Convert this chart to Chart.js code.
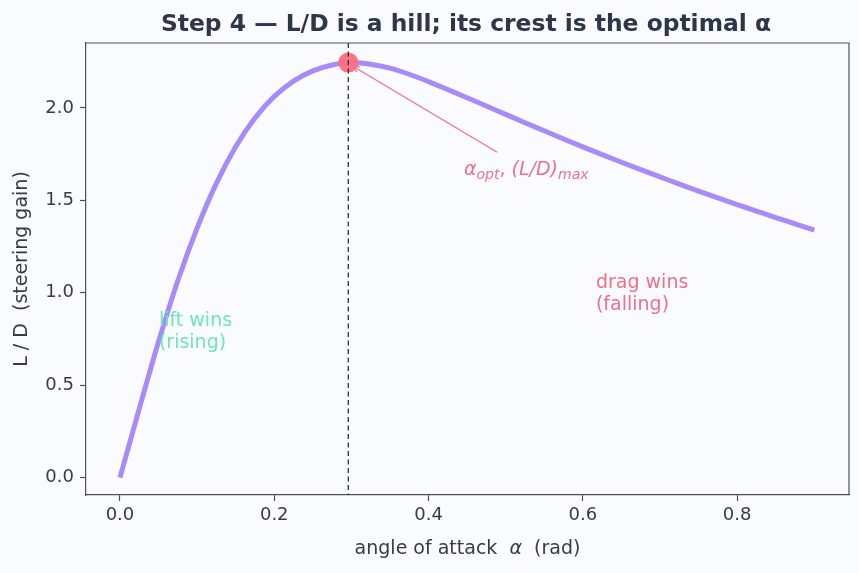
<!DOCTYPE html>
<html>
<head>
<meta charset="utf-8">
<script src="https://cdn.jsdelivr.net/npm/chart.js@4.4.1/dist/chart.umd.min.js"></script>
<style>
  html, body { margin: 0; padding: 0; background: #fafbfe; }
  #wrap { width: 859px; height: 573px; }
</style>
</head>
<body>
<div id="wrap"><canvas id="ldChart" width="859" height="573"></canvas></div>
<script>
// L/D vs angle of attack
const ALPHA = [0, 0.025, 0.05, 0.075, 0.1, 0.125, 0.15, 0.175, 0.2, 0.225, 0.25, 0.275, 0.3,
  0.325, 0.35, 0.375, 0.4, 0.425, 0.45, 0.475, 0.5, 0.525, 0.55, 0.575, 0.6, 0.625, 0.65,
  0.675, 0.7, 0.725, 0.75, 0.775, 0.8, 0.825, 0.85, 0.875, 0.9];
const LD = [0.00, 0.372, 0.735, 1.065, 1.35, 1.592, 1.79, 1.945, 2.062, 2.145, 2.20, 2.232, 2.245,
  2.236, 2.215, 2.182, 2.142, 2.099, 2.055, 2.01, 1.965, 1.92, 1.876, 1.832, 1.789, 1.747, 1.706,
  1.666, 1.627, 1.588, 1.55, 1.513, 1.477, 1.442, 1.407, 1.373, 1.339];
const ALPHA_OPT = 0.296;
const LD_MAX = 2.245;
const X_TICKS = [0, 0.2, 0.4, 0.6, 0.8];
const Y_TICKS = [0, 0.5, 1.0, 1.5, 2.0];

const FONT = 'DejaVu Sans';
const TEXT = '#343b4a';
const AXIS = '#4a505e';
const PINK = '#f07089';
const GREEN = '#6ee7b7';

// draw a run of [text, style, size, dy] pieces starting at x
function drawPieces(ctx, pieces, x, y, color) {
  ctx.fillStyle = color;
  ctx.textAlign = 'left';
  ctx.textBaseline = 'alphabetic';
  let cx = x;
  pieces.forEach(p => {
    ctx.font = p[1] + ' ' + p[2] + 'px "' + FONT + '"';
    ctx.fillText(p[0], cx, y + (p[3] || 0));
    cx += ctx.measureText(p[0]).width;
  });
  return cx - x;
}
function piecesWidth(ctx, pieces) {
  let w = 0;
  pieces.forEach(p => {
    ctx.font = p[1] + ' ' + p[2] + 'px "' + FONT + '"';
    w += ctx.measureText(p[0]).width;
  });
  return w;
}

const overlay = {
  id: 'overlay',
  afterDatasetsDraw(chart) {
    const ctx = chart.ctx;
    const xs = chart.scales.x, ys = chart.scales.y;
    const area = chart.chartArea;
    ctx.save();

    // dashed line at the optimum
    ctx.strokeStyle = '#2d3340';
    ctx.lineWidth = 1.3;
    ctx.setLineDash([5, 3.5]);
    const xo = xs.getPixelForValue(ALPHA_OPT);
    ctx.beginPath();
    ctx.moveTo(xo, area.top);
    ctx.lineTo(xo, area.bottom);
    ctx.stroke();
    ctx.setLineDash([]);

    // arrow from label to crest
    const x1 = xs.getPixelForValue(0.489), y1 = ys.getPixelForValue(1.76);
    const x2 = xs.getPixelForValue(0.302), y2 = ys.getPixelForValue(2.225);
    ctx.strokeStyle = PINK;
    ctx.lineWidth = 1.3;
    ctx.beginPath();
    ctx.moveTo(x1, y1);
    ctx.lineTo(x2, y2);
    const ang = Math.atan2(y2 - y1, x2 - x1);
    ctx.moveTo(x2 - 7 * Math.cos(ang - 0.45), y2 - 7 * Math.sin(ang - 0.45));
    ctx.lineTo(x2, y2);
    ctx.lineTo(x2 - 7 * Math.cos(ang + 0.45), y2 - 7 * Math.sin(ang + 0.45));
    ctx.stroke();

    drawPieces(ctx, [['α', 'italic', 19], ['opt', 'italic', 14, 4], [',', 'normal', 19],
      [' (L/D)', 'italic', 19], ['max', 'italic', 14, 4]],
      xs.getPixelForValue(0.446), ys.getPixelForValue(1.636), PINK);

    // region labels
    ctx.font = '19px "' + FONT + '"';
    ctx.textAlign = 'left';
    ctx.fillStyle = PINK;
    ctx.fillText('drag wins', xs.getPixelForValue(0.617), ys.getPixelForValue(1.025));
    ctx.fillText('(falling)', xs.getPixelForValue(0.617), ys.getPixelForValue(1.025) + 22);
    ctx.fillStyle = GREEN;
    ctx.fillText('lift wins', xs.getPixelForValue(0.0505), ys.getPixelForValue(0.818));
    ctx.fillText('(rising)', xs.getPixelForValue(0.0505), ys.getPixelForValue(0.818) + 22);

    // top and right spines
    ctx.strokeStyle = AXIS;
    ctx.lineWidth = 1.2;
    ctx.beginPath();
    ctx.moveTo(area.left, area.top);
    ctx.lineTo(area.right, area.top);
    ctx.lineTo(area.right, area.bottom);
    ctx.stroke();

    // title
    ctx.fillStyle = '#2d3748';
    ctx.font = 'bold 23.4px "' + FONT + '"';
    ctx.textAlign = 'center';
    ctx.fillText('Step 4 — L/D is a hill; its crest is the optimal α', 466, 31);

    // x axis label with italic alpha
    const xl = [['angle of attack  ', 'normal', 19], ['α', 'italic', 19], ['  (rad)', 'normal', 19]];
    const w = piecesWidth(ctx, xl);
    drawPieces(ctx, xl, (area.left + area.right) / 2 - w / 2, 554, TEXT);
    ctx.restore();
  }
};

function initChart() {
  const ctx = document.getElementById('ldChart').getContext('2d');
  new Chart(ctx, {
    type: 'scatter',
    data: {
      datasets: [
        {
          label: 'L/D',
          data: ALPHA.map((a, i) => ({ x: a, y: LD[i] })),
          showLine: true,
          borderColor: '#a78bfa',
          borderWidth: 5,
          pointRadius: 0,
          cubicInterpolationMode: 'monotone',
          order: 2
        },
        {
          label: 'optimum',
          data: [{ x: ALPHA_OPT, y: LD_MAX }],
          backgroundColor: '#fb7185',
          borderWidth: 0,
          pointRadius: 10,
          order: 1
        }
      ]
    },
    options: {
      responsive: false,
      animation: false,
      devicePixelRatio: 1,
      layout: { padding: { top: 43, right: 9, left: 0, bottom: 0 } },
      plugins: { legend: { display: false }, tooltip: { enabled: false } },
      scales: {
        x: {
          type: 'linear',
          min: -0.044,
          max: 0.945,
          afterBuildTicks: s => { s.ticks = X_TICKS.map(v => ({ value: v })); },
          afterFit: s => { s.height = 78; },
          ticks: {
            callback: v => v.toFixed(1),
            font: { family: FONT, size: 18 },
            color: TEXT,
            padding: 4,
            maxRotation: 0,
            autoSkip: false
          },
          grid: { drawOnChartArea: false, tickLength: 6, color: AXIS, tickWidth: 1.2 },
          border: { color: AXIS, width: 1.2 }
        },
        y: {
          min: -0.094,
          max: 2.351,
          afterBuildTicks: s => { s.ticks = Y_TICKS.map(v => ({ value: v })); },
          afterFit: s => { s.width = 86; },
          ticks: {
            callback: v => v.toFixed(1),
            font: { family: FONT, size: 18 },
            color: TEXT,
            padding: 6,
            autoSkip: false
          },
          grid: { drawOnChartArea: false, tickLength: 6, color: AXIS, tickWidth: 1.2 },
          border: { color: AXIS, width: 1.2 },
          title: {
            display: true,
            text: 'L / D  (steering gain)',
            font: { family: FONT, size: 19 },
            color: TEXT,
            padding: { top: 11, bottom: 0 }
          }
        }
      }
    },
    plugins: [overlay]
  });
}

document.addEventListener('DOMContentLoaded', initChart);
</script>
</body>
</html>
